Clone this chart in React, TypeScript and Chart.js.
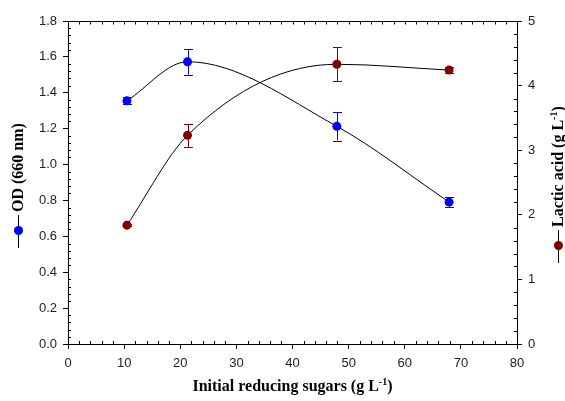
import React, { useEffect, useRef } from "react";
import { Chart, registerables } from "chart.js";

Chart.register(...registerables);

const sugars = [10.5, 21.3, 47.9, 67.9];
const od = [1.355, 1.573, 1.213, 0.791];
const odErr = [0.02, 0.072, 0.079, 0.028];
const lactic = [1.84, 3.23, 4.33, 4.24];
const lacticErr = [0.02, 0.18, 0.26, 0.046];

const xTitle = ["Initial reducing sugars (g L", "-1", ")"];
const yTitle = ["OD (660 nm)"];
const y1Title = ["Lactic acid (g L", "-1", ")"];

const BLUE = "#0000ff";
const RED = "#800000";
const TITLE_FONT = "bold 16px 'Liberation Serif', serif";
const SUP_FONT = "bold 10px 'Liberation Serif', serif";

function drawRich(ctx: CanvasRenderingContext2D, parts: string[], x: number, y: number, align: "left" | "center") {
  ctx.font = TITLE_FONT;
  const w0 = ctx.measureText(parts[0]).width;
  ctx.font = SUP_FONT;
  const w1 = parts[1] ? ctx.measureText(parts[1]).width : 0;
  ctx.font = TITLE_FONT;
  const w2 = parts[2] ? ctx.measureText(parts[2]).width : 0;
  const total = w0 + w1 + w2;
  let sx = align === "center" ? x - total / 2 : x;
  ctx.textAlign = "left";
  ctx.textBaseline = "alphabetic";
  ctx.fillStyle = "#000";
  ctx.font = TITLE_FONT;
  ctx.fillText(parts[0], sx, y);
  sx += w0;
  if (parts[1]) {
    ctx.font = SUP_FONT;
    ctx.fillText(parts[1], sx, y - 6);
    sx += w1;
  }
  if (parts[2]) {
    ctx.font = TITLE_FONT;
    ctx.fillText(parts[2], sx, y);
  }
}

const decorPlugin = {
  id: "decor",
  beforeDatasetsDraw(chart: any) {
    const ctx = chart.ctx as CanvasRenderingContext2D;
    const xs = chart.scales.x;
    const sets = [
      { vals: od, errs: odErr, scale: chart.scales.y, color: BLUE },
      { vals: lactic, errs: lacticErr, scale: chart.scales.y1, color: RED },
    ];
    ctx.save();
    ctx.lineWidth = 1;
    for (const s of sets) {
      ctx.strokeStyle = s.color;
      s.vals.forEach((v, i) => {
        const px = Math.round(xs.getPixelForValue(sugars[i])) + 0.5;
        const top = s.scale.getPixelForValue(v + s.errs[i]);
        const bot = s.scale.getPixelForValue(v - s.errs[i]);
        ctx.beginPath();
        ctx.moveTo(px, top);
        ctx.lineTo(px, bot);
        ctx.moveTo(px - 4.5, Math.round(top) + 0.5);
        ctx.lineTo(px + 4.5, Math.round(top) + 0.5);
        ctx.moveTo(px - 4.5, Math.round(bot) + 0.5);
        ctx.lineTo(px + 4.5, Math.round(bot) + 0.5);
        ctx.stroke();
      });
    }
    ctx.restore();
  },
  afterDraw(chart: any) {
    const ctx = chart.ctx as CanvasRenderingContext2D;
    const a = chart.chartArea;
    const xs = chart.scales.x;
    const ys = chart.scales.y;
    const y1 = chart.scales.y1;
    ctx.save();
    ctx.strokeStyle = "#000";
    ctx.lineWidth = 1;
    ctx.beginPath();
    const T = Math.round(a.top) + 0.5;
    ctx.moveTo(a.left, T);
    ctx.lineTo(a.right, T);
    for (let k = 1; k < 40; k++) {
      const px = Math.round(xs.getPixelForValue(k * 2)) + 0.5;
      if (k % 5 !== 0) {
        ctx.moveTo(px, a.bottom);
        ctx.lineTo(px, a.bottom - 3);
      }
      ctx.moveTo(px, T);
      ctx.lineTo(px, T + 3);
    }
    for (let k = 1; k < 45; k++) {
      if (k % 5 === 0) continue;
      const py = Math.round(ys.getPixelForValue(k * 0.04)) + 0.5;
      ctx.moveTo(a.left, py);
      ctx.lineTo(a.left + 3, py);
    }
    for (let k = 1; k < 25; k++) {
      if (k % 5 === 0) continue;
      const py = Math.round(y1.getPixelForValue(k * 0.2)) + 0.5;
      ctx.moveTo(a.right, py);
      ctx.lineTo(a.right - 3, py);
    }
    ctx.stroke();

    drawRich(ctx, xTitle, (a.left + a.right) / 2, 391, "center");
    ctx.save();
    ctx.translate(23, 212);
    ctx.rotate(-Math.PI / 2);
    drawRich(ctx, yTitle, 0, 0, "left");
    ctx.restore();
    ctx.save();
    ctx.translate(563, 227);
    ctx.rotate(-Math.PI / 2);
    drawRich(ctx, y1Title, 0, 0, "left");
    ctx.restore();

    const sym = (x: number, yTop: number, color: string) => {
      ctx.strokeStyle = "#000";
      ctx.beginPath();
      ctx.moveTo(x + 0.5, yTop);
      ctx.lineTo(x + 0.5, yTop + 33);
      ctx.stroke();
      ctx.fillStyle = color;
      ctx.beginPath();
      ctx.arc(x + 0.5, yTop + 15.5, 4.5, 0, Math.PI * 2);
      ctx.fill();
    };
    sym(18, 215, BLUE);
    sym(558, 230, RED);
    ctx.restore();
  },
};

export default function App() {
  const ref = useRef<HTMLCanvasElement | null>(null);
  useEffect(() => {
    if (!ref.current) return;
    const tickFont = { family: "'Liberation Sans', Arial, sans-serif", size: 13 };
    const chart = new Chart(ref.current, {
      type: "scatter",
      data: {
        datasets: [
          {
            label: "OD (660 nm)",
            data: sugars.map((x, i) => ({ x, y: od[i] })),
            yAxisID: "y",
            showLine: true,
            cubicInterpolationMode: "monotone",
            borderColor: "#000",
            borderWidth: 1,
            pointRadius: 4.5,
            pointBackgroundColor: BLUE,
            pointBorderColor: BLUE,
            pointBorderWidth: 0,
          },
          {
            label: "Lactic acid",
            data: sugars.map((x, i) => ({ x, y: lactic[i] })),
            yAxisID: "y1",
            showLine: true,
            cubicInterpolationMode: "monotone",
            borderColor: "#000",
            borderWidth: 1,
            pointRadius: 4.5,
            pointBackgroundColor: RED,
            pointBorderColor: RED,
            pointBorderWidth: 0,
          },
        ],
      },
      options: {
        responsive: false,
        animation: false,
        devicePixelRatio: 1,
        layout: { padding: { top: 21, left: 0, right: 0, bottom: 0 } },
        plugins: { legend: { display: false }, tooltip: { enabled: false } },
        scales: {
          x: {
            type: "linear",
            min: 0,
            max: 80,
            ticks: { stepSize: 10, font: tickFont, color: "#222", padding: 7, maxRotation: 0 },
            grid: { drawOnChartArea: false, drawTicks: true, tickLength: 5, color: "#000" },
            border: { display: true, color: "#000", width: 1 },
            afterFit: (s: any) => { s.height = 57; },
          },
          y: {
            type: "linear",
            position: "left",
            min: 0,
            max: 1.8,
            ticks: { stepSize: 0.2, font: tickFont, color: "#222", padding: 6, callback: (v: any) => Number(v).toFixed(1) },
            grid: { drawOnChartArea: false, drawTicks: true, tickLength: 5, color: "#000" },
            border: { display: true, color: "#000", width: 1 },
            afterFit: (s: any) => { s.width = 68; },
          },
          y1: {
            type: "linear",
            position: "right",
            min: 0,
            max: 5,
            ticks: { stepSize: 1, font: tickFont, color: "#222", padding: 6 },
            grid: { drawOnChartArea: false, drawTicks: true, tickLength: 5, color: "#000" },
            border: { display: true, color: "#000", width: 1 },
            afterFit: (s: any) => { s.width = 48; },
          },
        },
      },
      plugins: [decorPlugin],
    } as any);
    return () => chart.destroy();
  }, []);
  return (
    <div style={{ position: "absolute", left: 0, top: 0, width: 565, height: 401, background: "#fff" }}>
      <canvas ref={ref} width={565} height={401} style={{ display: "block" }} />
    </div>
  );
}
